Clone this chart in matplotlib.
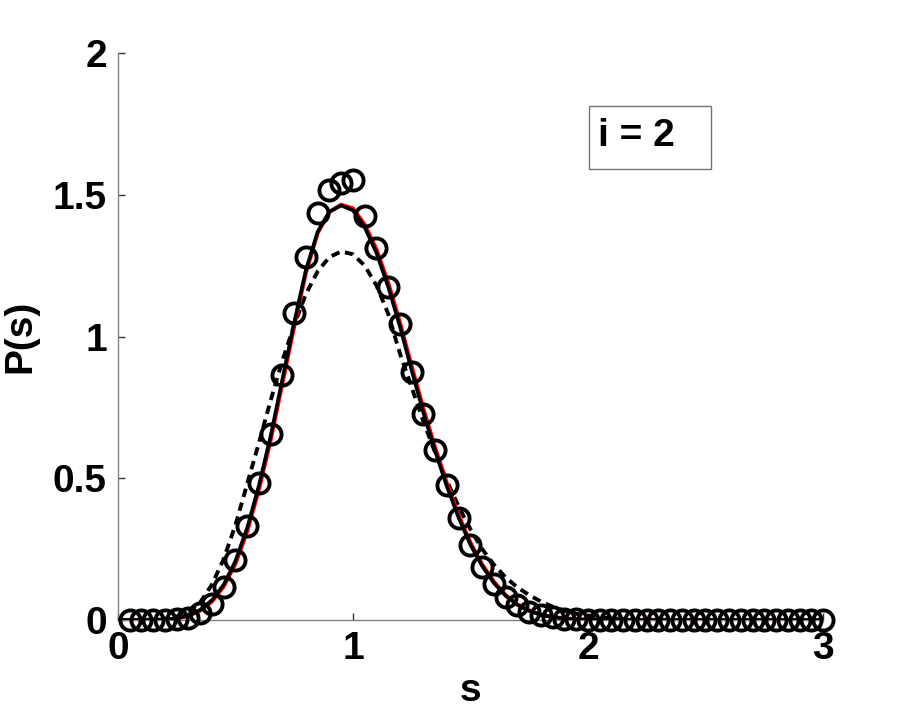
import matplotlib
matplotlib.use("Agg")
import matplotlib.pyplot as plt
from matplotlib.patches import Rectangle

plt.rcParams["font.family"] = ["Liberation Sans", "DejaVu Sans"]
plt.rcParams["font.weight"] = "bold"

# ---- data -------------------------------------------------------------------
# circles: histogram points, s = 0.05 ... 3.00
s_pts = [0.05, 0.10, 0.15, 0.20, 0.25, 0.30, 0.35, 0.40, 0.45, 0.50,
         0.55, 0.60, 0.65, 0.70, 0.75, 0.80, 0.85, 0.90, 0.95, 1.00,
         1.05, 1.10, 1.15, 1.20, 1.25, 1.30, 1.35, 1.40, 1.45, 1.50,
         1.55, 1.60, 1.65, 1.70, 1.75, 1.80, 1.85, 1.90, 1.95, 2.00,
         2.05, 2.10, 2.15, 2.20, 2.25, 2.30, 2.35, 2.40, 2.45, 2.50,
         2.55, 2.60, 2.65, 2.70, 2.75, 2.80, 2.85, 2.90, 2.95, 3.00]
p_pts = [0.0, 0.0, 0.0, 0.001, 0.003, 0.008, 0.025, 0.056, 0.118, 0.213,
         0.33, 0.483, 0.656, 0.864, 1.083, 1.28, 1.436, 1.517, 1.541, 1.552,
         1.425, 1.312, 1.175, 1.045, 0.875, 0.727, 0.60, 0.476, 0.36, 0.266,
         0.186, 0.128, 0.08, 0.052, 0.03, 0.018, 0.01, 0.005, 0.003, 0.001,
         0.0, 0.0, 0.0, 0.0, 0.0, 0.0, 0.0, 0.0, 0.0, 0.0,
         0.0, 0.0, 0.0, 0.0, 0.0, 0.0, 0.0, 0.0, 0.0, 0.0]

# curves
s_line = [0.0, 0.1, 0.15, 0.2, 0.25, 0.3, 0.35, 0.4, 0.45, 0.5,
          0.55, 0.6, 0.65, 0.7, 0.75, 0.8, 0.85, 0.9, 0.95, 1.0,
          1.05, 1.1, 1.15, 1.2, 1.25, 1.3, 1.35, 1.4, 1.45, 1.5,
          1.55, 1.6, 1.65, 1.7, 1.75, 1.8, 1.85, 1.9, 1.95, 2.0,
          2.1, 2.2, 2.4, 2.6, 3.0]
p_black = [0.0, 0.0, 0.0, 0.002, 0.006, 0.016, 0.036, 0.07, 0.125, 0.208,
           0.325, 0.475, 0.65, 0.85, 1.05, 1.235, 1.37, 1.44, 1.462, 1.445,
           1.385, 1.295, 1.175, 1.035, 0.88, 0.73, 0.595, 0.47, 0.36, 0.265,
           0.19, 0.13, 0.085, 0.053, 0.032, 0.018, 0.01, 0.005, 0.003, 0.001,
           0.0, 0.0, 0.0, 0.0, 0.0]
p_red = [0.0, 0.0, 0.0, 0.002, 0.005, 0.014, 0.033, 0.065, 0.118, 0.198,
         0.312, 0.46, 0.635, 0.835, 1.035, 1.225, 1.365, 1.44, 1.465, 1.452,
         1.395, 1.308, 1.19, 1.05, 0.895, 0.745, 0.608, 0.482, 0.37, 0.273,
         0.196, 0.135, 0.088, 0.055, 0.034, 0.019, 0.011, 0.006, 0.003, 0.001,
         0.0, 0.0, 0.0, 0.0, 0.0]
p_dash = [0.0, 0.0, 0.002, 0.005, 0.012, 0.028, 0.062, 0.125, 0.215, 0.335,
          0.48, 0.625, 0.775, 0.915, 1.04, 1.15, 1.23, 1.28, 1.30, 1.29,
          1.25, 1.18, 1.08, 0.94, 0.82, 0.70, 0.59, 0.49, 0.40, 0.32,
          0.25, 0.195, 0.15, 0.115, 0.088, 0.065, 0.047, 0.033, 0.022, 0.015,
          0.006, 0.002, 0.0, 0.0, 0.0]

x_ticks = [0, 1, 2, 3]
y_ticks = [0, 0.5, 1, 1.5, 2]
y_ticklabels = ["0", "0.5", "1", "1.5", "2"]
box_text = "i = 2"

# ---- figure -----------------------------------------------------------------
fig = plt.figure(figsize=(9.07, 7.13), dpi=100)
ax = fig.add_axes([0.13, 0.1304, 0.7774, 0.7953])

ax.plot(s_line, p_dash, color="black", lw=2.8, ls=(0, (2.2, 1.5)), zorder=3)
ax.plot(s_line, p_red, color="red", lw=2.8, zorder=4)
ax.plot(s_line, p_black, color="black", lw=2.6, zorder=5)
ax.plot(s_pts, p_pts, ls="none", marker="o", ms=14.5, mfc="none",
        mec="black", mew=2.8, zorder=6, clip_on=False)

ax.set_xlim(0, 3)
ax.set_ylim(0, 2)
ax.set_xticks(x_ticks)
ax.set_yticks(y_ticks)
ax.set_yticklabels(y_ticklabels)
ax.tick_params(direction="in", length=5, width=1, labelsize=28, pad=8,
               color="0.2")
for lab in ax.get_xticklabels() + ax.get_yticklabels():
    lab.set_fontweight("bold")

for side in ("top", "right"):
    ax.spines[side].set_visible(False)
for side in ("left", "bottom"):
    ax.spines[side].set_color("0.5")
    ax.spines[side].set_linewidth(1)

ax.set_xlabel("s", fontsize=28, fontweight="bold", labelpad=4)
ax.set_ylabel("P(s)", fontsize=28, fontweight="bold", labelpad=10)

# text box in the upper right
fig.patches.append(Rectangle((589 / 907, 1 - 169 / 713), 122 / 907, 63 / 713,
                             transform=fig.transFigure, fill=False,
                             edgecolor="0.45", lw=1))
fig.text(598 / 907, 1 - 136 / 713, box_text, fontsize=28, fontweight="bold",
         ha="left", va="center")

fig.savefig("out.png", dpi=100)
